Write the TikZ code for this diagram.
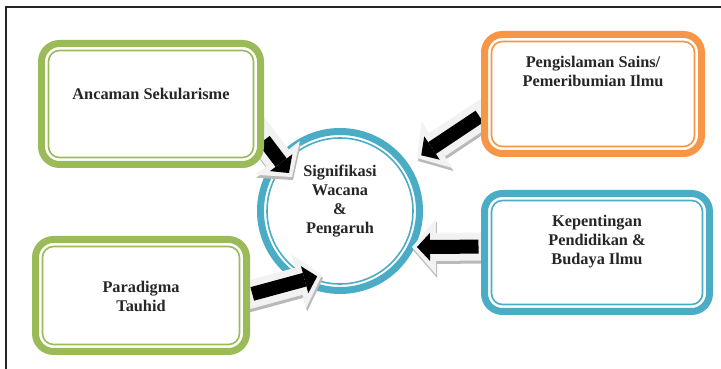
\documentclass[tikz,border=0pt]{standalone}
\usepackage{fontspec}
\setmainfont{Liberation Serif}
\usepackage{xcolor}
\usetikzlibrary{arrows.meta,backgrounds}

\definecolor{leafgreen}{HTML}{9BBB59}
\definecolor{sunorange}{HTML}{F79646}
\definecolor{seablue}{HTML}{4BACC6}
\definecolor{inkgray}{HTML}{262626}
\definecolor{arrowwhite}{HTML}{F2F2F2}

\begin{document}
\begin{tikzpicture}[x=1pt,y=1pt,pageframe/.style={draw=inkgray,line width=1.8pt},themebox/.style={draw=#1,line width=7pt,rounded corners=18pt,fill=white,inner sep=0pt,outer sep=0pt},themeline/.style={draw=#1,line width=1.6pt,rounded corners=11pt},boxtitle/.style={align=center,font=\fontsize{16.3}{19}\selectfont\bfseries,text=inkgray,inner sep=0pt},hubring/.style={circle,draw=seablue,line width=7pt,minimum size=159pt,inner sep=0pt,outer sep=0pt},hubline/.style={draw=seablue,line width=1.6pt},arrowshadow/.style={draw=gray!55,line width=28pt,-{Triangle[width=56pt,length=24pt,line width=0pt]},shorten <=-20pt,transform canvas={shift={(1,-3)}}},arrowbody/.style={draw=arrowwhite,line width=28pt,-{Triangle[width=56pt,length=24pt,line width=0pt]},shorten <=-20pt},arrowcore/.style={draw=black,line width=14pt,-{Triangle[width=28pt,length=13pt,line width=0pt]},shorten <=6pt,shorten >=5pt}]
\useasboundingbox (0,0) rectangle (721,369);
\draw[pageframe] (6,0) -- (6,362) -- (721,362);
% four theme boxes
\node[themebox=leafgreen,minimum width=219pt,minimum height=121pt] (boxSecular) at (151,265) {};
\node[themebox=sunorange,minimum width=217pt,minimum height=119pt] (boxIslam) at (593,275) {};
\node[themebox=leafgreen,minimum width=211pt,minimum height=112pt] (boxTauhid) at (141,73.5) {};
\node[themebox=seablue,minimum width=225pt,minimum height=118pt] (boxEdu) at (597,116.5) {};
\draw[themeline=leafgreen] ([shift={(7,7)}]boxSecular.south west) rectangle ([shift={(-7,-7)}]boxSecular.north east);
\draw[themeline=sunorange] ([shift={(7,7)}]boxIslam.south west) rectangle ([shift={(-7,-7)}]boxIslam.north east);
\draw[themeline=leafgreen] ([shift={(7,7)}]boxTauhid.south west) rectangle ([shift={(-7,-7)}]boxTauhid.north east);
\draw[themeline=seablue] ([shift={(7,7)}]boxEdu.south west) rectangle ([shift={(-7,-7)}]boxEdu.north east);
\node[boxtitle] (tSecular) at ([yshift=10]boxSecular.center) {Ancaman Sekularisme};
\node[boxtitle] (tIslam) at ([yshift=23]boxIslam.center) {Pengislaman Sains/\\Pemeribumian Ilmu};
\node[boxtitle] (tTauhid) at ([yshift=-1]boxTauhid.center) {Paradigma\\Tauhid};
\node[boxtitle] (tEdu) at ([yshift=10.5]boxEdu.center) {Kepentingan\\Pendidikan \&\\Budaya Ilmu};
% hub ring and block arrows go underneath
\begin{scope}[on background layer]
\node[hubring] (hub) at (340,158) {};
\draw[hubline] (hub.center) circle (73);
\coordinate (tipA) at ([shift={(144.7:58.8)}]hub.center);
\coordinate (tipB) at ([shift={(34.5:93.5)}]hub.center);
\coordinate (tipD) at ([shift={(-26.6:80.5)}]hub.center);
\coordinate (tipC) at ([shift={(254.3:66.5)}]hub.center);
\draw[arrowshadow] (boxSecular.-16.5) -- (tipA);
\draw[arrowbody] (boxSecular.-16.5) -- (tipA);
\draw[arrowcore] (boxSecular.-16.5) -- (tipA);
\draw[arrowshadow] (boxIslam.190) -- (tipB);
\draw[arrowbody] (boxIslam.190) -- (tipB);
\draw[arrowcore] (boxIslam.190) -- (tipB);
\draw[arrowshadow] (boxEdu.177) -- (tipD);
\draw[arrowbody] (boxEdu.177) -- (tipD);
\draw[arrowcore] (boxEdu.177) -- (tipD);
\draw[arrowshadow] (boxTauhid.east) -- (tipC);
\draw[arrowbody] (boxTauhid.east) -- (tipC);
\draw[arrowcore] (boxTauhid.east) -- (tipC);
\end{scope}
\node[boxtitle] (tHub) at ([yshift=10]hub.center) {Signifikasi\\Wacana\\\&\\Pengaruh};
\end{tikzpicture}
\end{document}
